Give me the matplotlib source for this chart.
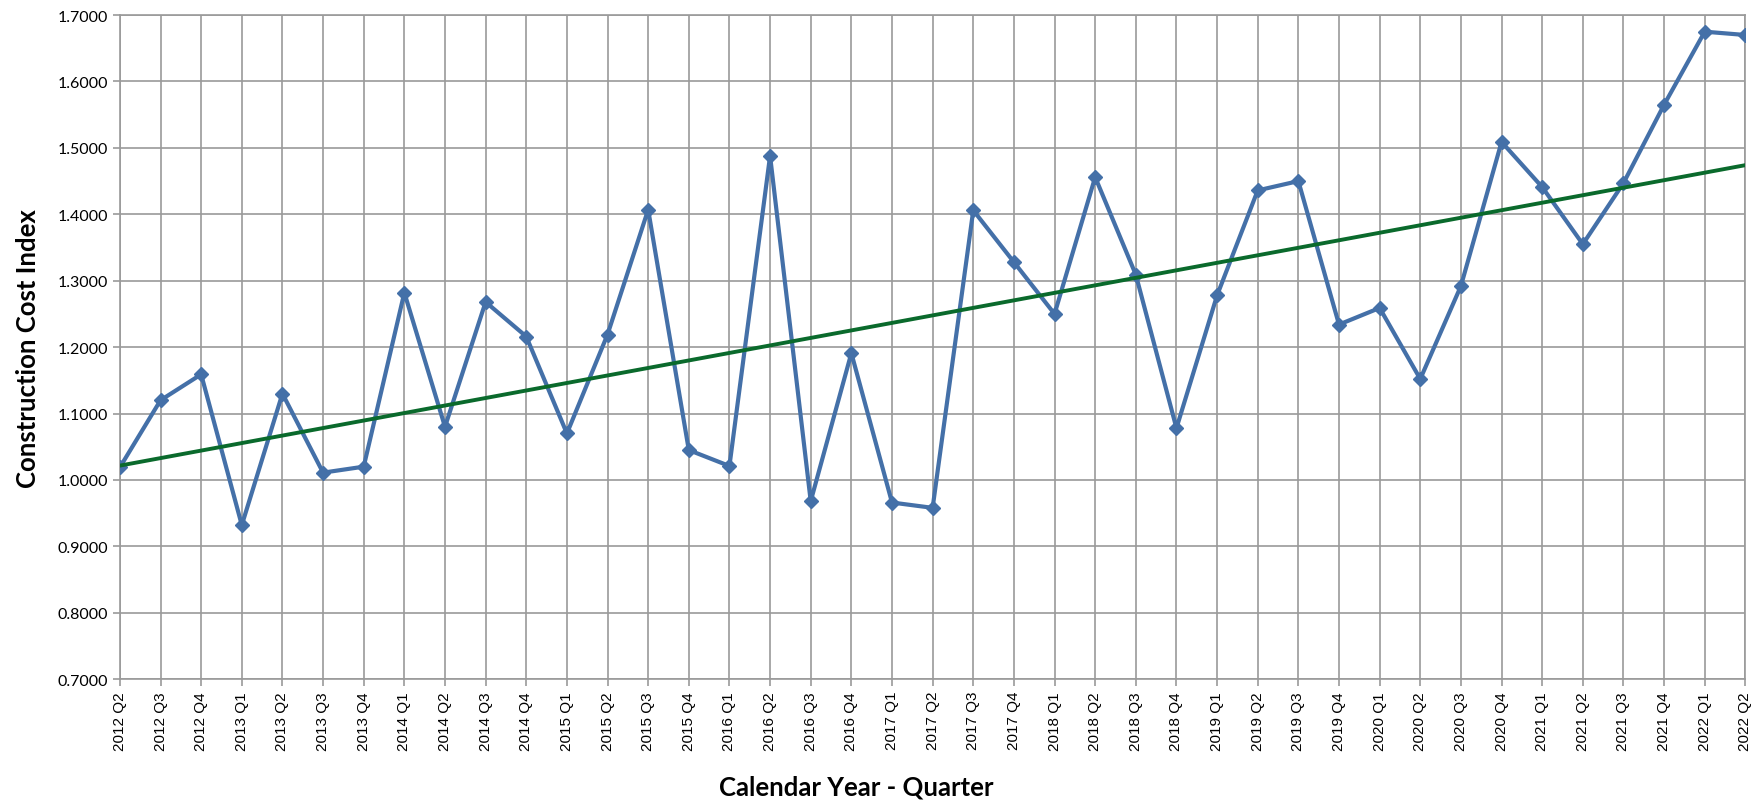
import numpy as np
import matplotlib
matplotlib.use("Agg")
import matplotlib.pyplot as plt

quarters = ["2012 Q2", "2012 Q3", "2012 Q4",
            "2013 Q1", "2013 Q2", "2013 Q3", "2013 Q4",
            "2014 Q1", "2014 Q2", "2014 Q3", "2014 Q4",
            "2015 Q1", "2015 Q2", "2015 Q3", "2015 Q4",
            "2016 Q1", "2016 Q2", "2016 Q3", "2016 Q4",
            "2017 Q1", "2017 Q2", "2017 Q3", "2017 Q4",
            "2018 Q1", "2018 Q2", "2018 Q3", "2018 Q4",
            "2019 Q1", "2019 Q2", "2019 Q3", "2019 Q4",
            "2020 Q1", "2020 Q2", "2020 Q3", "2020 Q4",
            "2021 Q1", "2021 Q2", "2021 Q3", "2021 Q4",
            "2022 Q1", "2022 Q2"]
cost_index = [1.019, 1.120, 1.159,
              0.932, 1.130, 1.011, 1.020,
              1.282, 1.080, 1.268, 1.216,
              1.070, 1.219, 1.407, 1.045,
              1.021, 1.488, 0.968, 1.191,
              0.966, 0.958, 1.406, 1.328,
              1.250, 1.456, 1.309, 1.078,
              1.278, 1.436, 1.450, 1.234,
              1.259, 1.152, 1.292, 1.509,
              1.441, 1.355, 1.447, 1.565,
              1.675, 1.670]
y_ticks = [0.7, 0.8, 0.9, 1.0, 1.1, 1.2, 1.3, 1.4, 1.5, 1.6, 1.7]

fig = plt.figure(figsize=(17.63, 8.04), dpi=100)
ax = fig.add_axes([0.068, 0.154, 0.922, 0.826])

x = np.arange(len(quarters))
y = np.array(cost_index)

ax.plot(x, y, color="#4470A8", lw=3, marker="D", ms=7, zorder=3)
coef = np.polyfit(x, y, 1)
ax.plot(x, np.polyval(coef, x), color="#0A6A2C", lw=2.8, zorder=4)

ax.set_xlim(0, len(quarters) - 1)
ax.set_ylim(0.7, 1.7)
ax.set_yticks(y_ticks)
ax.set_yticklabels([f"{v:.4f}" for v in y_ticks], fontfamily="Lato", fontsize=11.5)
ax.set_xticks(x)
ax.set_xticklabels(quarters, rotation=90, fontfamily="Liberation Sans", fontsize=11)

ax.grid(True, color="#9a9a9a", lw=1.2)
ax.set_axisbelow(True)
for s in ax.spines.values():
    s.set_color("#9a9a9a")
    s.set_linewidth(1.2)
ax.tick_params(axis="both", color="#9a9a9a", length=5, width=1.2)

ax.set_ylabel("Construction Cost Index", fontfamily="Lato", fontweight="bold", fontsize=18.5)
ax.yaxis.set_label_coords(-0.049, 0.5)
fig.text(0.4855, 0.021, "Calendar Year - Quarter", fontfamily="Lato", fontweight="bold",
         fontsize=18.5, ha="center", va="center")

fig.savefig("out.png", dpi=100)
